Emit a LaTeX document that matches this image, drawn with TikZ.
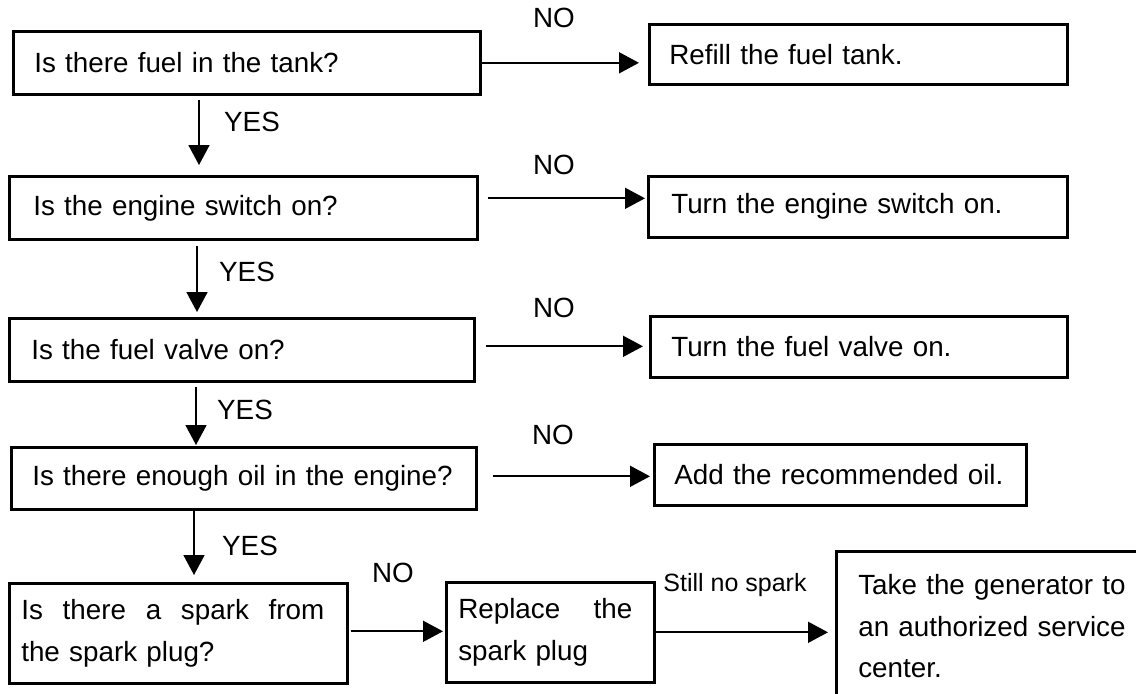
\documentclass[tikz,border=0pt]{standalone}
\usepackage{fontspec}
\setmainfont{Liberation Sans}
\usetikzlibrary{arrows.meta}

\tikzset{
  qbox/.style={draw, line width=1.3pt, anchor=north west, align=left, inner ysep=0pt},
  conn/.style={-{Triangle[length=10pt,width=10.5pt]}, line width=0.85pt},
  lbl/.style={inner sep=0pt}
}

\begin{document}
\begin{tikzpicture}[x=0.5pt, y=-0.5pt, font=\fontsize{13.9pt}{20.75pt}\selectfont]
\useasboundingbox (0,0) rectangle (1136,693);
\clip (0,0) rectangle (1136,693);

% Questions
\node[qbox, minimum width=233.5pt, minimum height=31.5pt, inner xsep=10.5pt, text width=212.5pt] (q1) at (12,30) {Is there fuel in the tank?};
\node[qbox, minimum width=234pt, minimum height=31.5pt, inner xsep=12pt, text width=210pt] (q2) at (8,175) {Is the engine switch on?};
\node[qbox, minimum width=232.5pt, minimum height=31.5pt, inner xsep=11pt, text width=210.5pt] (q3) at (8,317) {Is the fuel valve on?};
\node[qbox, minimum width=232.5pt, minimum height=31pt, inner xsep=10.5pt, text width=211.5pt] (q4) at (10,446) {Is there enough oil in the engine?};
\node[qbox, minimum width=169pt, minimum height=50pt, inner xsep=6pt, text width=157pt] (q5) at (8,582) {\hbox to 151.5pt{Is\hfill there\hfill a\hfill spark\hfill from}\\the spark plug?};

% Remedies
\node[qbox, minimum width=209pt, minimum height=30pt, inner xsep=10pt, text width=189pt] (a1) at (648,23) {Refill the fuel tank.};
\node[qbox, minimum width=209.5pt, minimum height=30.5pt, inner xsep=11.5pt, text width=186.5pt] (a2) at (647,175) {Turn the engine switch on.};
\node[qbox, minimum width=208.5pt, minimum height=30.5pt, inner xsep=10.5pt, text width=187.5pt] (a3) at (649,315) {Turn the fuel valve on.};
\node[qbox, minimum width=186pt, minimum height=30.5pt, inner xsep=10pt, text width=166pt] (a4) at (653,443) {Add the recommended oil.};
\node[qbox, minimum width=104pt, minimum height=50pt, inner xsep=6pt, text width=92pt] (a5) at (445,581) {\hbox to 87pt{Replace\hfill the}\\spark plug};
\node[qbox, minimum width=150pt, minimum height=75pt, inner xsep=11pt, text width=134pt] (a6) at (835,550) {Take the generator to\\an authorized service\\center.};

% YES arrows
\draw[conn, shorten <=2pt, shorten >=5pt] ([xshift=93.5pt]q1.south west) -- ([xshift=93.5pt]q1.south west |- q2.north);
\draw[conn, shorten <=2.5pt, shorten >=2.5pt] ([xshift=94.5pt]q2.south west) -- ([xshift=94.5pt]q2.south west |- q3.north);
\draw[conn, shorten <=2pt, shorten >=0.5pt] ([xshift=94pt]q3.south west) -- ([xshift=94pt]q3.south west |- q4.north);
\draw[conn, shorten >=3.5pt] ([xshift=92pt]q4.south west) -- ([xshift=92pt]q4.south west |- q5.north);

% NO arrows
\draw[conn, shorten >=4.5pt] (q1.east) -- (q1.east -| a1.west);
\draw[conn, shorten <=4.5pt, shorten >=1pt] ([yshift=4.75pt]q2.east) -- ([yshift=4.75pt]q2.east -| a2.west);
\draw[conn, shorten <=5pt, shorten >=3pt] ([yshift=1.75pt]q3.east) -- ([yshift=1.75pt]q3.east -| a3.west);
\draw[conn, shorten <=7.5pt, shorten >=1.5pt] ([yshift=1pt]q4.east) -- ([yshift=1pt]q4.east -| a4.west);
\draw[conn, shorten <=1pt, shorten >=1pt] ([yshift=1pt]q5.east) -- ([yshift=1pt]q5.east -| a5.west);
\draw[conn, shorten >=3.5pt] (a5.east) -- (a5.east -| a6.west);

% Labels
\node[lbl] (no1) at (554,18) {NO};
\node[lbl] (no2) at (554,165) {NO};
\node[lbl] (no3) at (554,308) {NO};
\node[lbl] (no4) at (553,435) {NO};
\node[lbl] (no5) at (393,573) {NO};
\node[lbl] (yes1) at (252,122) {YES};
\node[lbl] (yes2) at (247,272) {YES};
\node[lbl] (yes3) at (245,410) {YES};
\node[lbl] (yes4) at (250,546) {YES};
\node[lbl, font=\fontsize{12.5pt}{15pt}\selectfont] (still) at (735,585) {Still no spark};

\end{tikzpicture}
\end{document}
